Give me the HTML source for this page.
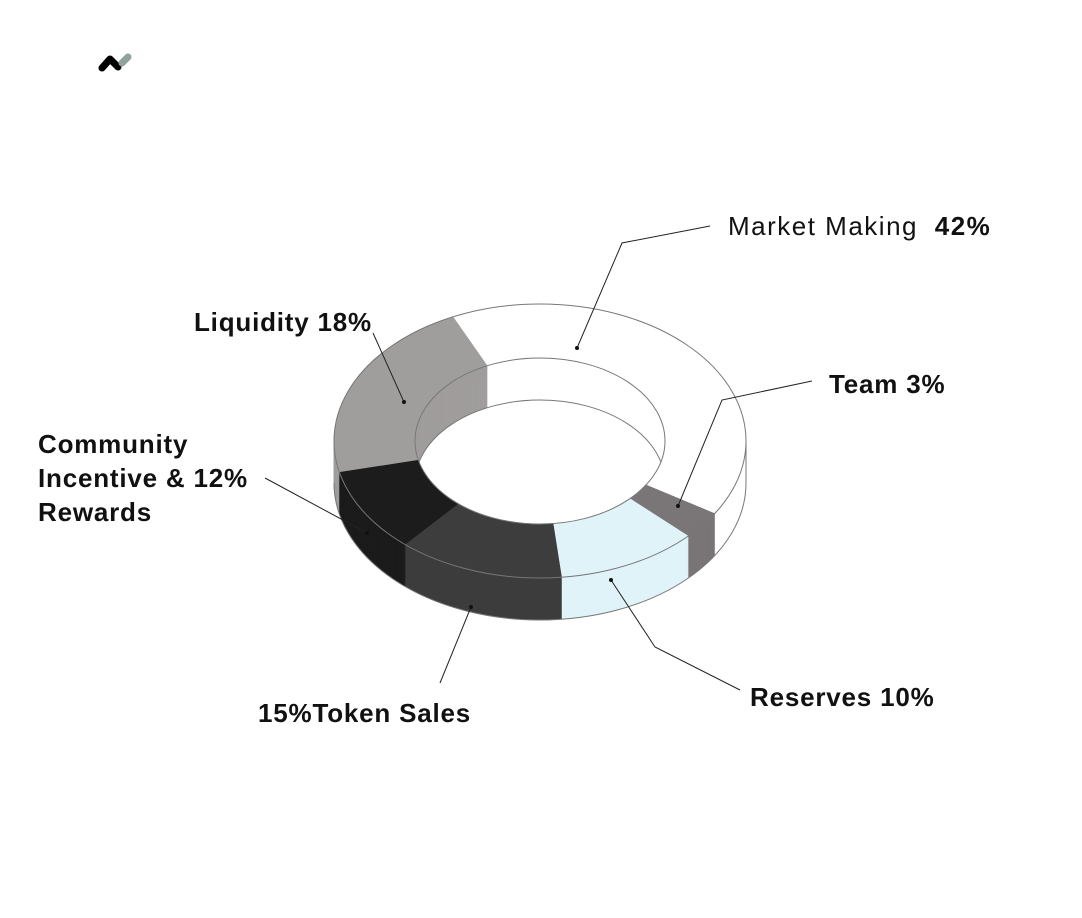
<!DOCTYPE html>
<html><head><meta charset="utf-8"><style>
html,body{margin:0;padding:0;background:#fff;}
svg{display:block;}
text{font-family:"Liberation Sans",Arial,sans-serif;font-size:26px;fill:#111;letter-spacing:0.8px;}
.b{font-weight:bold;}
.n{letter-spacing:1.5px;}
</style></head><body>
<svg id="s" width="1082" height="918" viewBox="0 0 1082 918" xmlns="http://www.w3.org/2000/svg">
<polyline points="102,68 110,59 118,67" fill="none" stroke="#000" stroke-width="7" stroke-linecap="round" stroke-linejoin="round"/>
<line x1="122" y1="63" x2="128" y2="57" stroke="#8fa39c" stroke-width="7" stroke-linecap="round"/>
<g id="donut"></g>
<g fill="none" stroke="#222" stroke-width="1">
<polyline points="710,226 622,243 577,348"/>
<polyline points="812,381 722,400 678,506"/>
<polyline points="611,580 655,647 740,690"/>
<polyline points="471,607 440,683"/>
<polyline points="265,478 367,533"/>
<polyline points="373,333 404,402"/>
</g>
<g fill="#111">
<circle cx="577" cy="348" r="2"/><circle cx="678" cy="506" r="2"/><circle cx="611" cy="580" r="2"/>
<circle cx="471" cy="607" r="2"/><circle cx="367" cy="533" r="2"/><circle cx="404" cy="402" r="2"/>
</g>
<text x="728" y="235" class="n">Market Making <tspan class="b" dx="8">42%</tspan></text>
<text x="829" y="393" class="b">Team 3%</text>
<text x="750" y="706" class="b">Reserves 10%</text>
<text x="258" y="722" class="b">15%Token Sales</text>
<text x="194" y="331" class="b">Liquidity 18%</text>
<text x="38" y="453" class="b">Community</text>
<text x="38" y="487" class="b">Incentive &amp;  12%</text>
<text x="38" y="521" class="b">Rewards</text>
</svg>
<script>
var cx=540,cy=441,R=206,Ry=137,r=125,ry=83,D=42;
var sl=[[245,392,"#ffffff"],[32,44,"#7a7576"],[44,84,"#e0f3f8"],[84,131,"#3d3d3d"],[131,167,"#1c1c1c"],[167,245,"#a09d9d"]];
function P(a,b,t,dy){t=t*Math.PI/180;return [(cx+a*Math.cos(t)).toFixed(2),(cy+dy+b*Math.sin(t)).toFixed(2)];}
function sec(t1,t2,dy){var L=(t2-t1)>180?1:0;var a=P(R,Ry,t1,dy),b=P(R,Ry,t2,dy),c=P(r,ry,t2,dy),d=P(r,ry,t1,dy);
return "M"+a+" A"+R+" "+Ry+" 0 "+L+" 1 "+b+" L"+c+" A"+r+" "+ry+" 0 "+L+" 0 "+d+" Z";}
var h='<defs><clipPath id="hc"><ellipse cx="'+cx+'" cy="'+cy+'" rx="'+r+'" ry="'+ry+'"/></clipPath></defs>';
for(var dy=D;dy>=0;dy--){for(var i=0;i<sl.length;i++){h+='<path d="'+sec(sl[i][0],sl[i][1],dy)+'" fill="'+sl[i][2]+'" stroke="'+sl[i][2]+'" stroke-width="0.6"/>';}}
var st='fill="none" stroke="#777" stroke-width="1"';
h+='<ellipse cx="'+cx+'" cy="'+cy+'" rx="'+R+'" ry="'+Ry+'" '+st+'/>';
h+='<ellipse cx="'+cx+'" cy="'+cy+'" rx="'+r+'" ry="'+ry+'" '+st+'/>';
h+='<ellipse cx="'+cx+'" cy="'+(cy+D)+'" rx="'+r+'" ry="'+ry+'" '+st+' clip-path="url(#hc)"/>';
h+='<path d="M'+(cx+R)+','+(cy+D)+' A'+R+' '+Ry+' 0 0 1 '+(cx-R)+','+(cy+D)+'" '+st+'/>';
h+='<line x1="'+(cx+R)+'" y1="'+cy+'" x2="'+(cx+R)+'" y2="'+(cy+D)+'" stroke="#777"/>';
document.getElementById('donut').innerHTML=h;
</script>
</body></html>
